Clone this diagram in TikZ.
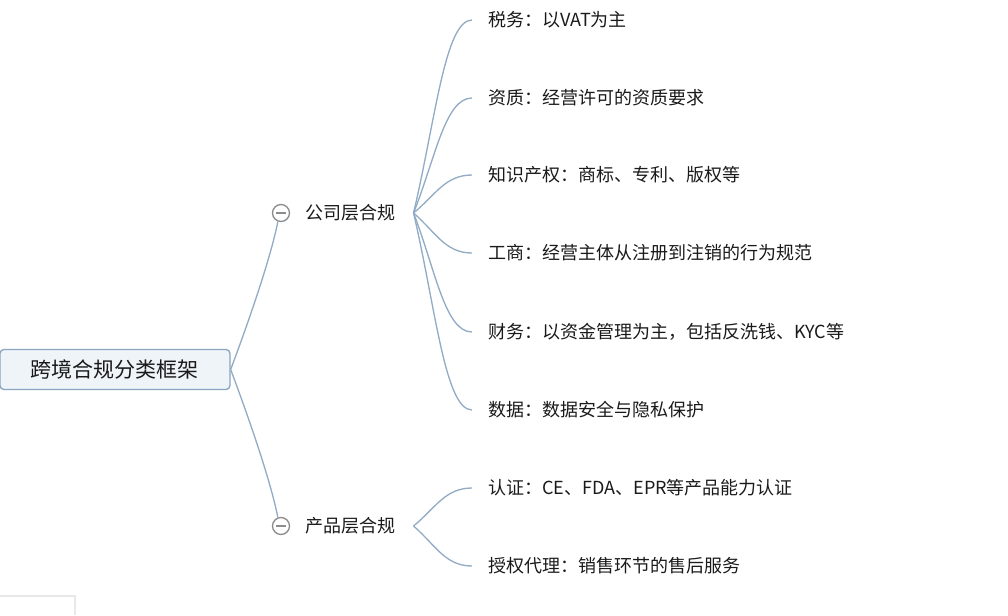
\documentclass[tikz,border=0pt]{standalone}
\usepackage{fontspec}
\setmainfont{Noto Sans CJK SC}
\definecolor{linec}{HTML}{93ACC5}
\definecolor{rootb}{HTML}{8AA5C0}
\definecolor{rootf}{HTML}{EFF4F9}
\definecolor{togc}{HTML}{8C8C8C}
\definecolor{textc}{HTML}{1A1A1A}
\definecolor{faintc}{HTML}{E8E8E8}
\begin{document}
\begin{tikzpicture}[x=0.75pt,y=-0.75pt,
  conn/.style={draw=linec, line width=1pt},
  rootbox/.style={draw=rootb, fill=rootf, rounded corners=3pt, line width=1pt,
    minimum width=172.5pt, minimum height=30pt, inner sep=0pt,
    font=\fontsize{15.75}{18}\selectfont, text=textc},
  tog/.style={circle, draw=togc, line width=1pt, minimum size=12.75pt, inner sep=0pt, fill=white,
    path picture={\draw[togc,line width=1pt] ([xshift=-3.6pt]path picture bounding box.center) -- ([xshift=3.6pt]path picture bounding box.center);}},
  lone/.style={anchor=west, inner xsep=13.5pt, inner ysep=0pt, font=\fontsize{13.5}{16}\selectfont, text=textc},
  ltwo/.style={anchor=west, inner xsep=12pt, inner ysep=0pt, font=\fontsize{13.5}{16}\selectfont, text=textc}
]
\useasboundingbox (0,0) rectangle (1008,615);
\draw[faintc, line width=1.2pt] (0,596) -- (75,596) -- (75,615);

\node[rootbox] (root) at (115,369.5) {跨境合规分类框架};

\node[tog] (t1) at (281,213) {};
\node[lone] (c1) at (287,213) {公司层合规};
\node[tog] (t2) at (281,526) {};
\node[lone] (c2) at (287,526) {产品层合规};

\node[ltwo] (a1) at (472,20) {税务：以VAT为主};
\node[ltwo] (a2) at (472,98) {资质：经营许可的资质要求};
\node[ltwo] (a3) at (472,175) {知识产权：商标、专利、版权等};
\node[ltwo] (a4) at (472,253) {工商：经营主体从注册到注销的行为规范};
\node[ltwo] (a5) at (472,332) {财务：以资金管理为主，包括反洗钱、KYC等};
\node[ltwo] (a6) at (472,410) {数据：数据安全与隐私保护};
\node[ltwo] (b1) at (472,488) {认证：CE、FDA、EPR等产品能力认证};
\node[ltwo] (b2) at (472,566) {授权代理：销售环节的售后服务};

\draw[conn] (root.east) .. controls +(15,-40) and +(-8,40) .. (t1.250);
\draw[conn] (root.east) .. controls +(15,40) and +(-8,-40) .. (t2.110);

\draw[conn] (c1.east) .. controls +(22,-93) and +(-27,0) .. (a1.west);
\draw[conn] (c1.east) .. controls +(22,-55) and +(-27,0) .. (a2.west);
\draw[conn] (c1.east) .. controls +(22,-18) and +(-27,0) .. (a3.west);
\draw[conn] (c1.east) .. controls +(22,19) and +(-27,0) .. (a4.west);
\draw[conn] (c1.east) .. controls +(22,57) and +(-27,0) .. (a5.west);
\draw[conn] (c1.east) .. controls +(22,94) and +(-27,0) .. (a6.west);

\draw[conn] (c2.east) .. controls +(22,-18) and +(-27,0) .. (b1.west);
\draw[conn] (c2.east) .. controls +(22,19) and +(-27,0) .. (b2.west);
\end{tikzpicture}
\end{document}
